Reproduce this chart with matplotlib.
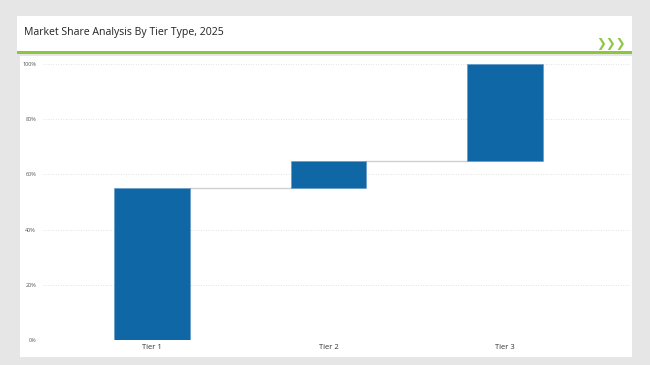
import numpy as np
import matplotlib.pyplot as plt
from matplotlib.patches import Rectangle

categories = ["Tier 1", "Tier 2", "Tier 3"]
shares = [55, 10, 35]
yticks = [0, 20, 40, 60, 80, 100]

W, H = 650, 365
fig = plt.figure(figsize=(6.5, 3.65), dpi=100)
fig.set_facecolor("#e6e6e6")


def px_rect(x0, y0, x1, y1, **kw):
    # pixel coords (top-left origin) -> figure fraction
    fig.patches.append(Rectangle((x0 / W, 1 - y1 / H), (x1 - x0) / W, (y1 - y0) / H,
                                 transform=fig.transFigure, **kw))


# header and chart panels
px_rect(17, 16, 632, 52, facecolor="white", edgecolor="none", zorder=-2)
px_rect(20, 56, 632, 357, facecolor="white", edgecolor="none", zorder=-2)
px_rect(17, 51, 632, 53.5, facecolor="#8cc63e", edgecolor="none", zorder=-1)

fig.text(24 / W, 1 - 33 / H, "Market Share Analysis By Tier Type, 2025",
         fontsize=7.6, family="Open Sans", color="#222222", va="center", ha="left")
fig.text(626 / W, 1 - 43 / H, "\u276f\u276f\u276f", fontsize=8.5, color="#8cc63e",
         va="center", ha="right", family="DejaVu Sans", fontweight="bold")

# plot area: x 43..630, y 64..340 px
ax = fig.add_axes([43 / W, 1 - 340 / H, (630 - 43) / W, (340 - 64) / H])
ax.set_zorder(5)
ax.set_facecolor("none")

x = np.arange(len(categories))
bottoms = np.concatenate([[0], np.cumsum(shares)[:-1]])
tops = bottoms + np.array(shares)
width = 0.43

ax.bar(x, shares, bottom=bottoms, width=width, color="#0f67a6",
       edgecolor="#5b95c4", linewidth=0.4, zorder=3)

# connector lines between bars
for i in range(len(categories) - 1):
    ax.plot([x[i] + width / 2, x[i + 1] - width / 2], [tops[i], tops[i]],
            color="#d0d0d0", linewidth=1, zorder=2)

ax.set_xlim(-0.62, 2.71)
ax.set_ylim(0, 100)
ax.set_yticks(yticks)
ax.set_yticklabels([f"{v}%" for v in yticks], fontsize=4, color="#555555",
                   family="Open Sans")
ax.set_xticks(x)
ax.set_xticklabels(categories, fontsize=5.5, color="#333333", family="Open Sans")
ax.tick_params(length=0, pad=3)
ax.tick_params(axis="y", pad=5)
ax.yaxis.grid(True, linestyle=(0, (1, 2)), color="#d8d8d8", linewidth=0.6, zorder=0)
for s in ax.spines.values():
    s.set_visible(False)

fig.savefig("out.png", dpi=100, facecolor=fig.get_facecolor())
